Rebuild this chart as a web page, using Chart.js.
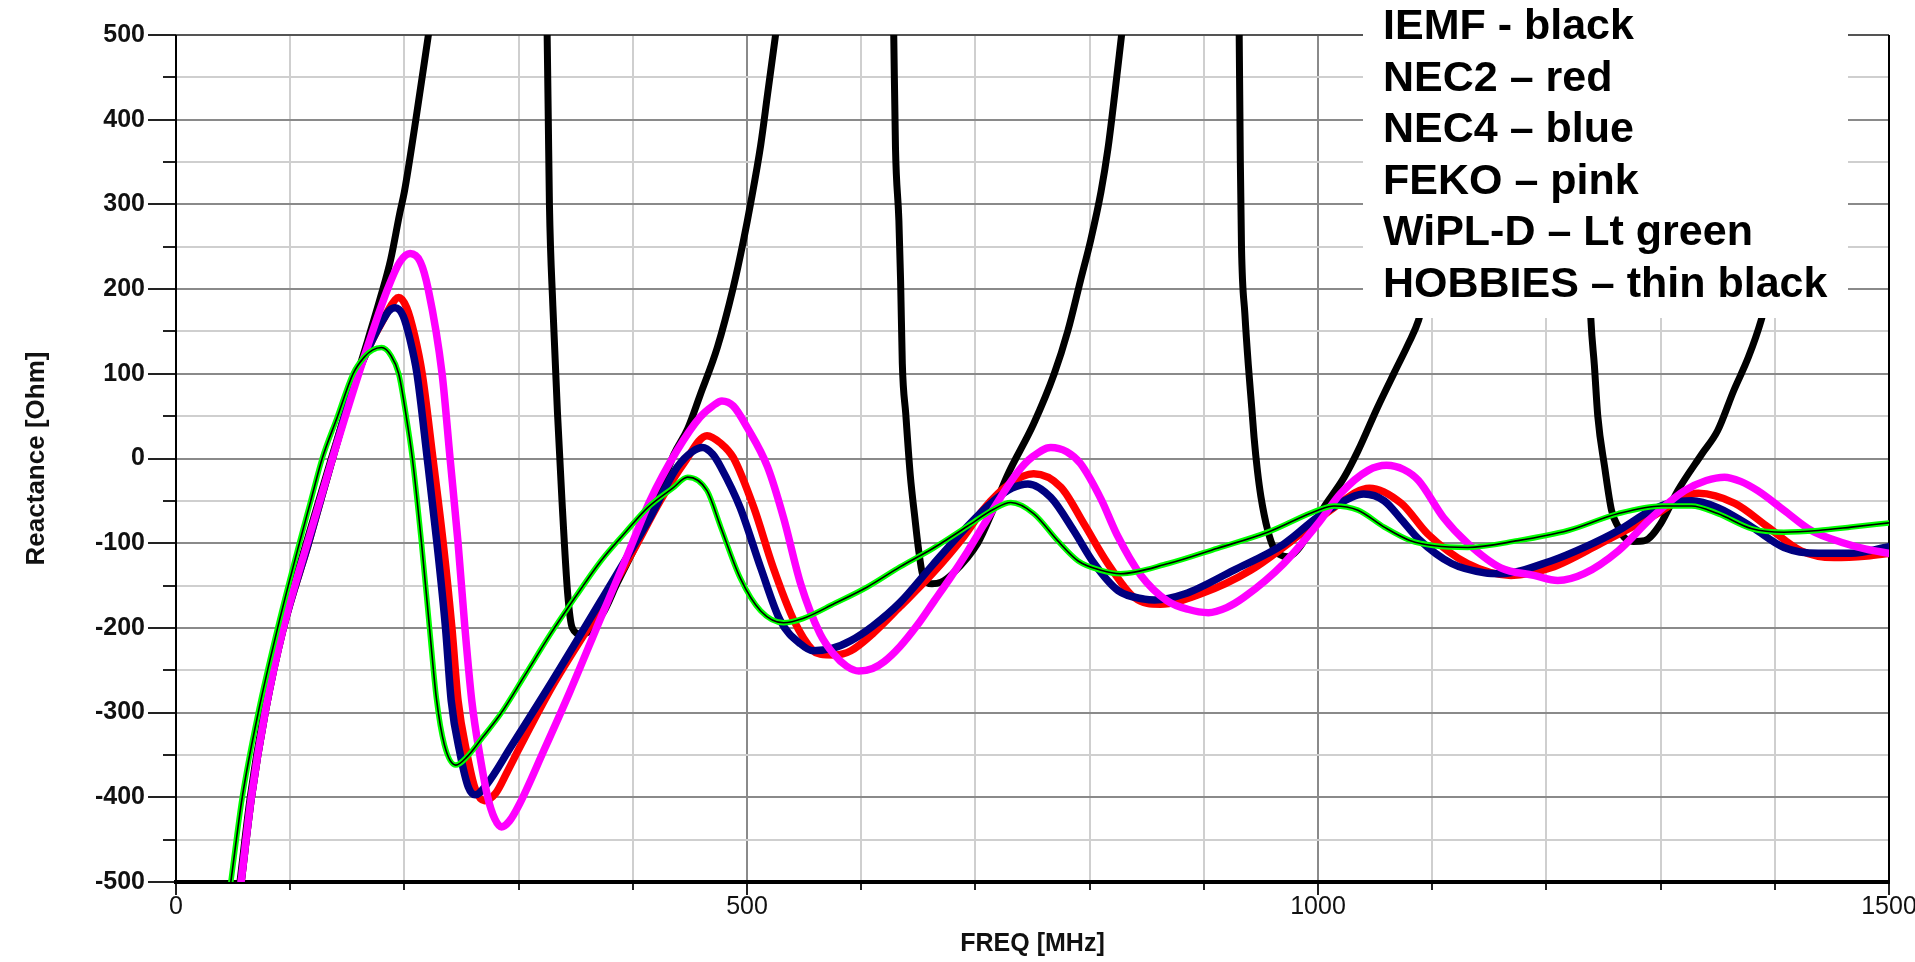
<!DOCTYPE html>
<html>
<head>
<meta charset="utf-8">
<title>Reactance vs FREQ</title>
<script src="https://cdn.jsdelivr.net/npm/chart.js@4.4.1/dist/chart.umd.min.js"></script>
<style>
    html, body { margin: 0; padding: 0; background: #fff; }
    canvas { display: block; }
</style>
</head>
<body>
<canvas id="reactChart" width="1915" height="962"></canvas>
<script>
// valeurs (MHz / Ohm), null = la courbe sort du cadre
var iemfFreq = [56, 65, 77, 93, 114, 136, 152, 160, 168, 179, 188, 196, 200, 210, 221,
    270,
    325, 326, 327, 330, 334, 338, 343, 347, 354, 361, 375, 386, 400, 420, 436, 448, 459, 474, 488, 497, 503, 512, 518, 525,
    580,
    628.5, 630, 633, 634.5, 636, 639, 643, 647, 650, 654, 662, 670, 680, 702, 715, 728, 751, 769, 781, 792, 801, 810, 816, 822, 828,
    880,
    931, 932, 933, 936, 939, 942, 944, 947, 950, 956, 962, 966, 973, 982, 1005, 1023, 1035, 1052, 1067, 1079, 1088, 1095,
    1170,
    1238, 1239, 1242, 1245, 1251, 1257, 1263, 1268, 1276, 1286, 1300, 1315, 1336, 1350, 1364, 1377, 1388, 1395];
var iemfReact = [-500, -400, -300, -200, -100, 0, 70, 105, 140, 190, 235, 290, 315, 400, 500,
    null,
    500, 400, 300, 180, 55, -50, -160, -200, -207, -205, -180, -148, -110, -52, 5, 35, 75, 131, 202, 258, 300, 370, 430, 500,
    null,
    500, 368, 281, 210, 112, 53, -20, -70, -105, -138, -148, -146, -136, -100, -62, -20, 41, 100, 151, 210, 258, 315, 365, 430, 500,
    null,
    500, 350, 250, 170, 110, 60, 25, -15, -45, -85, -108, -113, -116, -108, -58, -22, 9, 60, 102, 135, 163, 200,
    null,
    200, 163, 110, 50, -10, -61, -81, -93, -98, -97, -77, -38, 5, 33, 80, 120, 163, 200];

var nec2Freq = [57, 66, 78, 94, 116, 137, 159, 172, 182, 188, 195, 202, 209, 215.6, 225, 234, 241.6, 247, 255, 262, 270, 280, 290, 301,
    330, 372, 400, 424, 445, 465, 477, 488, 506, 523, 541, 558, 564, 577, 591, 610, 634, 663, 690, 707, 730, 751, 775, 795,
    816, 839, 862, 897, 941, 985, 1014, 1045, 1073, 1096, 1131, 1169, 1204, 1248, 1292, 1333, 1365, 1394, 1423, 1452, 1481, 1500];
var nec2React = [-500, -400, -300, -200, -100, 0, 100, 140, 165, 180, 190, 178, 145, 100, 0, -100, -200, -286, -350, -390, -404, -395, -370, -341,
    -268, -176, -110, -50, -5, 27, 18, 1, -58, -129, -191, -227, -231, -232, -227, -207, -175, -135, -92, -60, -30, -18, -34, -77,
    -124, -164, -172, -160, -132, -89, -58, -35, -53, -89, -124, -138, -129, -100, -69, -41, -53, -81, -109, -117, -115, -112];

var nec4Freq = [57, 66, 78, 94, 116, 137, 159, 172, 181, 187, 192, 199, 205, 211, 220, 228.5, 236, 241, 249, 256, 262, 272, 293, 328,
    372, 415, 439, 452, 461, 470, 477, 494, 512, 529, 547, 558, 575, 591, 610, 634, 663, 693, 716, 732, 746, 766, 786, 804,
    825, 848, 857, 883, 926, 970, 1000, 1029, 1040, 1058, 1073, 1088, 1117, 1146, 1160, 1204, 1233, 1263, 1292, 1310, 1327,
    1350, 1380, 1408, 1438, 1467, 1500];
var nec4React = [-500, -400, -300, -200, -100, 0, 100, 140, 163, 175, 178, 168, 140, 100, 0, -100, -200, -286, -350, -388, -397, -385, -341, -266,
    -168, -70, -10, 8, 13, 5, -10, -58, -129, -191, -219, -227, -224, -215, -198, -170, -125, -80, -50, -35, -30, -46, -85, -124,
    -156, -166, -167, -160, -132, -101, -69, -46, -42, -50, -72, -95, -124, -135, -136, -121, -105, -85, -61, -52, -50,
    -58, -81, -105, -112, -112, -104];

var fekoFreq = [57, 66, 78, 94, 115, 137, 160, 185, 196, 205, 214, 221, 233, 240, 247, 253, 259, 266, 273, 279, 285, 292, 300,
    322, 345, 372, 395, 415, 439, 459, 470, 478, 488, 500, 518, 532, 547, 564, 576, 587, 598, 610, 620, 634, 649, 663, 678,
    693, 707, 722, 737, 750, 766, 780, 792, 810, 824, 845, 868, 886, 904, 920, 935, 970, 1000, 1020, 1044, 1060, 1075, 1088,
    1110, 1131, 1160, 1189, 1210, 1233, 1263, 1292, 1321, 1340, 1356, 1370, 1385, 1408, 1432, 1461, 1480, 1500];
var fekoReact = [-500, -400, -300, -200, -100, 0, 100, 199, 232, 242, 232, 199, 100, 0, -100, -200, -286, -350, -400, -425, -435, -428, -410,
    -345, -275, -188, -115, -50, 10, 49, 62, 68, 62, 37, -10, -70, -148, -207, -231, -245, -251, -248, -240, -222, -197, -170, -141,
    -110, -79, -46, -16, 2, 13, 8, -6, -48, -90, -138, -168, -178, -182, -176, -164, -124, -77, -41, -14, -8, -13, -26,
    -70, -100, -129, -138, -144, -136, -109, -70, -38, -26, -22, -27, -38, -61, -85, -100, -107, -112];

var wipldFreq = [48, 58, 72, 89, 108, 118, 128, 141, 155, 165, 172, 180, 188, 195, 201, 207, 215, 222, 228, 235, 245, 255, 268,
    284, 305, 328, 350, 372, 393, 413, 435, 448, 465, 477, 494, 512, 532, 549, 577, 605, 634, 663, 693, 716, 731, 751, 772, 790, 810, 827, 869,
    912, 956, 1000, 1014, 1035, 1058, 1081, 1102, 1131, 1175, 1219, 1263, 1301, 1327, 1350, 1380, 1408, 1438, 1467, 1500];
var wipldReact = [-500, -400, -300, -200, -100, -50, 0, 48, 100, 120, 128, 131, 122, 100, 55, 0, -100, -200, -283, -338, -362, -352, -330,
    -302, -257, -207, -163, -121, -88, -58, -35, -22, -38, -81, -141, -180, -194, -189, -171, -152, -128, -106, -80, -60, -52, -65, -97, -121, -132, -136, -124,
    -106, -87, -61, -56, -61, -81, -97, -103, -105, -97, -85, -65, -56, -56, -65, -83, -87, -85, -81, -76];

// HOBBIES suit WiPL-D sur tout le graphe (trait fin noir au milieu du vert)
var hobbiesFreq = wipldFreq.slice();
var hobbiesReact = wipldReact.slice();

var legendLines = ['IEMF - black', 'NEC2 \u2013 red', 'NEC4 \u2013 blue', 'FEKO \u2013 pink', 'WiPL-D \u2013 Lt green', 'HOBBIES \u2013 thin black'];
var freqLabels = [0, 500, 1000, 1500];
var reactLabels = [-500, -400, -300, -200, -100, 0, 100, 200, 300, 400, 500];

var FONT = "'Liberation Sans', Arial, sans-serif";

var toPoints = function (freqs, values) {
    return freqs.map(function (f, i) { return { x: f, y: values[i] }; });
};

var makeDataset = function (label, freqs, values, color, width, order) {
    return {
        label: label,
        data: toPoints(freqs, values),
        borderColor: color,
        borderWidth: width,
        pointRadius: 0,
        fill: false,
        spanGaps: false,
        clip: 0,
        order: order,
        cubicInterpolationMode: 'monotone',
        borderJoinStyle: 'round',
        borderCapStyle: 'round'
    };
};

// cadre, graduations et encart de légende
var framePlugin = {
    id: 'frame',
    beforeDatasetsDraw: function (chart) {
        var ctx = chart.ctx, a = chart.chartArea;
        var xs = chart.scales.x, ys = chart.scales.y;
        ctx.save();
        ctx.strokeStyle = '#222';
        ctx.lineWidth = 2;
        for (var v = -500; v <= 500; v += 50) {
            var py = Math.round(ys.getPixelForValue(v));
            var len = v % 100 === 0 ? 28 : 13;
            ctx.beginPath(); ctx.moveTo(a.left - len, py); ctx.lineTo(a.left, py); ctx.stroke();
        }
        for (var f = 0; f <= 1500; f += 100) {
            var px = Math.round(xs.getPixelForValue(f));
            var tl = f % 500 === 0 ? 13 : 8;
            ctx.beginPath(); ctx.moveTo(px, a.bottom); ctx.lineTo(px, a.bottom + tl); ctx.stroke();
        }
        ctx.strokeStyle = '#555';
        ctx.beginPath(); ctx.moveTo(a.left, a.top); ctx.lineTo(a.right, a.top); ctx.stroke();
        ctx.strokeStyle = '#000';
        ctx.beginPath(); ctx.moveTo(a.right, a.top); ctx.lineTo(a.right, a.bottom); ctx.stroke();
        ctx.beginPath(); ctx.moveTo(a.left, a.top); ctx.lineTo(a.left, a.bottom); ctx.stroke();
        ctx.lineWidth = 4;
        ctx.beginPath(); ctx.moveTo(a.left - 2, a.bottom); ctx.lineTo(a.right + 1, a.bottom); ctx.stroke();
        ctx.restore();
    },
    afterDatasetsDraw: function (chart) {
        var ctx = chart.ctx;
        ctx.save();
        ctx.fillStyle = '#fff';
        ctx.fillRect(1363, 0, 485, 318);
        ctx.fillStyle = '#000';
        ctx.font = 'bold 43px ' + FONT;
        ctx.textBaseline = 'alphabetic';
        ctx.textAlign = 'left';
        legendLines.forEach(function (txt, i) {
            ctx.fillText(txt, 1383, 39 + i * 51.6);
        });
        ctx.restore();
    }
};

var ctx = document.getElementById('reactChart');

var reactanceChart = new Chart(ctx, {
    type: 'line',
    data: {
        datasets: [
            makeDataset('HOBBIES', hobbiesFreq, hobbiesReact, '#000000', 1.6, 0),
            makeDataset('WiPL-D', wipldFreq, wipldReact, '#00ff00', 5.5, 1),
            makeDataset('FEKO', fekoFreq, fekoReact, '#ff00ff', 7.5, 2),
            makeDataset('NEC4', nec4Freq, nec4React, '#000080', 7.5, 3),
            makeDataset('NEC2', nec2Freq, nec2React, '#ff0000', 7.5, 4),
            makeDataset('IEMF', iemfFreq, iemfReact, '#000000', 7, 5)
        ]
    },
    options: {
        responsive: false,
        animation: false,
        devicePixelRatio: 1,
        layout: { padding: { left: 0, right: 26, top: 35, bottom: 0 } },
        plugins: {
            legend: { display: false },
            tooltip: { enabled: false },
            title: { display: false }
        },
        scales: {
            x: {
                type: 'linear',
                min: 0,
                max: 1500,
                border: { display: false },
                grid: {
                    drawTicks: false,
                    lineWidth: 2,
                    color: function (c) { return c.tick && c.tick.value % 500 === 0 ? '#8a8a8a' : '#cfcfcf'; }
                },
                ticks: {
                    stepSize: 100,
                    autoSkip: false,
                    maxRotation: 0,
                    padding: 10,
                    color: '#111',
                    font: { family: FONT, size: 25 },
                    callback: function (value) { return freqLabels.indexOf(value) >= 0 ? String(value) : ''; }
                },
                title: {
                    display: true,
                    text: 'FREQ [MHz]',
                    color: '#111',
                    font: { family: FONT, size: 25, weight: 'bold' },
                    padding: { top: 0, bottom: 3 }
                },
                afterFit: function (s) { s.height = 80; s.paddingLeft = 0; s.paddingRight = 0; }
            },
            y: {
                type: 'linear',
                min: -500,
                max: 500,
                border: { display: false },
                grid: {
                    drawTicks: false,
                    lineWidth: 2,
                    color: function (c) { return c.tick && c.tick.value % 100 === 0 ? '#8a8a8a' : '#cfcfcf'; }
                },
                ticks: {
                    stepSize: 50,
                    autoSkip: false,
                    padding: 31,
                    color: '#111',
                    font: { family: FONT, size: 25, weight: 'bold' },
                    callback: function (value) { return reactLabels.indexOf(value) >= 0 ? String(value) : ''; }
                },
                title: {
                    display: true,
                    text: 'Reactance [Ohm]',
                    color: '#111',
                    font: { family: FONT, size: 26, weight: 'bold' },
                    padding: { top: 21, bottom: 0 }
                },
                afterFit: function (s) { s.width = 176; s.paddingTop = 0; s.paddingBottom = 0; }
            }
        }
    },
    plugins: [framePlugin]
});
</script>
</body>
</html>
